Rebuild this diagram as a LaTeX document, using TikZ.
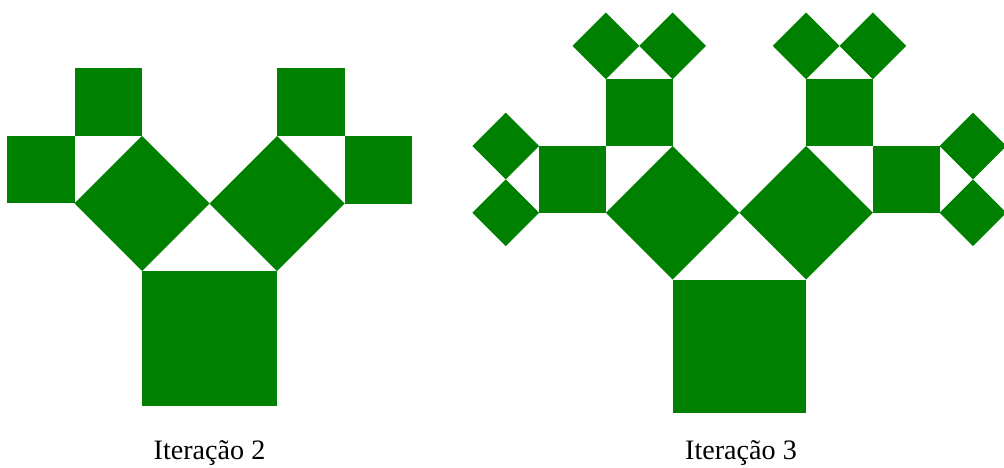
\documentclass[tikz,border=0pt]{standalone}
\usepackage{fontspec}
\setmainfont{Liberation Serif}
\usepackage{xcolor}
\usepackage{tikz}
\definecolor{verdearvore}{RGB}{0,128,0}
\tikzset{
  quadrado/.style={fill=verdearvore},
  rotulo/.style={anchor=base, font=\fontsize{16}{19}\selectfont, inner sep=0pt}
}
% ramo recursivo da arvore de Pitagoras (quadrado unitario + dois filhos)
\newcommand{\ramo}[1]{%
  \fill[quadrado] (0,0) rectangle (1,1);
  \ifnum#1>0
    \begin{scope}[shift={(0,1)},rotate=45,scale=0.70711]\ramo{\the\numexpr#1-1\relax}\end{scope}
    \begin{scope}[shift={(0.5,1.5)},rotate=-45,scale=0.70711]\ramo{\the\numexpr#1-1\relax}\end{scope}
  \fi}

\begin{document}
\begin{tikzpicture}[x=0.02cm, y=0.02cm]
  \useasboundingbox (0,0) rectangle (1004,467);
  % Iteracao 2
  \begin{scope}[shift={(142,61)}, scale=135]
    \ramo{2}
  \end{scope}
  \node[rotulo] (it2) at (209.5,8) {Iteração 2};
  % Iteracao 3
  \begin{scope}[shift={(672.5,54)}, scale=133.5]
    \ramo{3}
  \end{scope}
  \node[rotulo] (it3) at (741,8) {Iteração 3};
\end{tikzpicture}
\end{document}
